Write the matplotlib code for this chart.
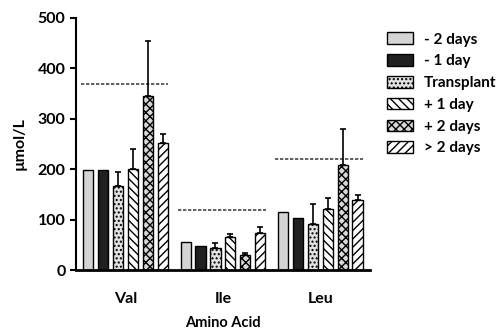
import matplotlib.pyplot as plt
import numpy as np

acids = ['Val', 'Ile', 'Leu']
series = ['- 2 days', '- 1 day', 'Transplant', '+ 1 day', '+ 2 days', '> 2 days']
values = [
    [199, 56, 116],
    [199, 48, 104],
    [166, 43, 91],
    [200, 66, 122],
    [346, 29, 208],
    [252, 73, 138],
]
err_top = [
    [None, None, None],
    [None, None, None],
    [194, 53, 132],
    [240, 71, 143],
    [455, 33, 280],
    [269, 85, 149],
]
ref_lines = [369, 119, 220]

fills = ['#d4d4d4', '#202020', '#e2e2e2', 'white', '#d8d8d8', 'white']
hatches = [None, None, '....', '\\\\\\\\', 'xxxx', '////']

plt.rcParams['font.family'] = ['Lato', 'DejaVu Sans']
plt.rcParams['font.weight'] = 'bold'
plt.rcParams['hatch.linewidth'] = 1.0

fig = plt.figure(figsize=(5.02, 3.31), dpi=100)
ax = fig.add_axes([0.151, 0.184, 0.586, 0.762])

x = np.arange(len(acids))
step = 0.153
width = 0.105
for i, name in enumerate(series):
    pos = x + (i - 2.5) * step
    ax.bar(pos, values[i], width, color=fills[i], edgecolor='black',
           hatch=hatches[i], linewidth=1.0, label=name, zorder=2)
    for j in range(len(acids)):
        if err_top[i][j] is not None:
            up = err_top[i][j] - values[i][j]
            ax.errorbar(pos[j], values[i][j], yerr=[[0], [up]], fmt='none',
                        ecolor='black', elinewidth=1.2, capsize=2.5, capthick=1.2, zorder=3)

for j, r in enumerate(ref_lines):
    ax.hlines(r, x[j] - 0.46, x[j] + 0.44, colors='#444444', linestyles=(0, (2, 1)),
              linewidth=1.2, zorder=1)

ax.set_xlim(-0.51, 2.51)
ax.set_ylim(0, 500)
ax.set_yticks([0, 100, 200, 300, 400, 500])
ax.set_xticks(x)
ax.set_xticklabels(acids, fontweight='bold')
ax.set_yticklabels([str(v) for v in [0, 100, 200, 300, 400, 500]], fontweight='bold')
ax.tick_params(axis='x', length=0, pad=16, labelsize=11.5)
ax.tick_params(axis='y', width=1.5, length=4, labelsize=11.5)
ax.spines['top'].set_visible(False)
ax.spines['right'].set_visible(False)
ax.spines['left'].set_linewidth(1.5)
ax.spines['bottom'].set_linewidth(2)
ax.set_ylabel('µmol/L', fontsize=11.5, labelpad=8, fontweight='bold')
ax.set_xlabel('Amino Acid', fontsize=10.5, labelpad=7, fontweight='bold')

ax.legend(loc='upper left', bbox_to_anchor=(1.02, 0.985), frameon=False,
          prop={'size': 11, 'weight': 'bold'}, borderaxespad=0.3,
          handlelength=1.75, handleheight=0.8, labelspacing=0.5, handletextpad=0.7)

fig.savefig('out.png', dpi=100)
